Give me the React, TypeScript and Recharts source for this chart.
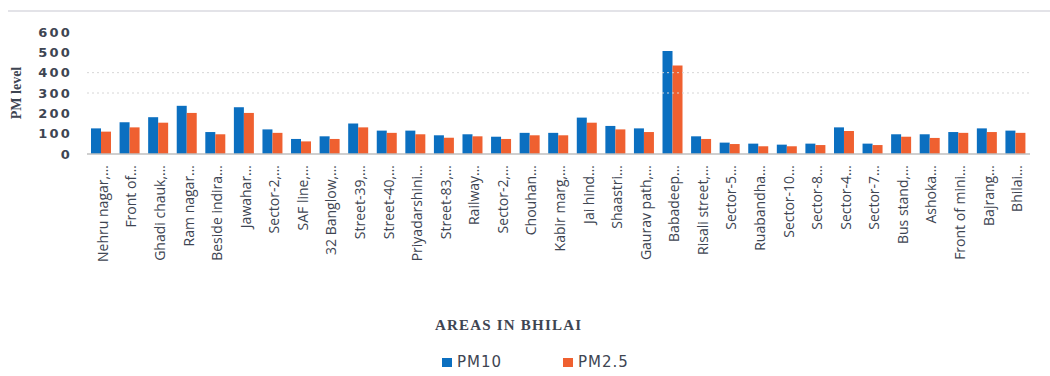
import React from "react";
import { BarChart, Bar, XAxis, YAxis, ReferenceLine } from "recharts";

const areas = [
  "Nehru nagar,…", "Front of…", "Ghadi chauk,…", "Ram nagar…", "Beside indira…",
  "Jawahar…", "Sector-2,…", "SAF line,…", "32 Banglow,…", "Street-39,…",
  "Street-40,…", "Priyadarshini…", "Street-83,…", "Railway…", "Sector-2,…",
  "Chouhan…", "Kabir marg,…", "Jai hind…", "Shaastri…", "Gaurav path,…",
  "Babadeep…", "Risali street,…", "Sector-5…", "Ruabandha…", "Sector-10…",
  "Sector-8…", "Sector-4…", "Sector-7…", "Bus stand,…", "Ashoka…",
  "Front of mini…", "Bajrang…", "Bhilai…",
];

const pm10 = [
  126, 156, 181, 237, 108, 230, 121, 74, 87, 150,
  115, 115, 92, 97, 85, 104, 104, 179, 138, 126,
  506, 87, 56, 51, 46, 51, 131, 51, 97, 97,
  108, 126, 115,
];

const pm25 = [
  110, 131, 154, 202, 97, 202, 104, 62, 74, 131,
  104, 97, 80, 87, 74, 92, 92, 154, 121, 108,
  435, 74, 49, 38, 38, 44, 113, 44, 85, 79,
  104, 108, 104,
];

const yTicks = [0, 100, 200, 300, 400, 500, 600];
const gridValues = [300, 400];

const BLUE = "#0B6FC0";
const ORANGE = "#EF6030";
const TEXT = "#3E4552";
const SANS = "'Open Sans', 'Noto Sans', sans-serif";
const WIDE = "'DejaVu Sans', sans-serif";
const SERIF = "'Liberation Serif', 'DejaVu Serif', serif";

const data = areas.map((name, i) => ({ name, pm10: pm10[i], pm25: pm25[i] }));

function AreaTick({ x, y, payload }: any) {
  return (
    <text
      transform={`translate(${x + 1},${y + 3}) rotate(-90)`}
      textAnchor="end"
      dominantBaseline="central"
      fill={TEXT}
      fontSize={14}
      fontFamily={SANS}
    >
      {payload.value}
    </text>
  );
}

function LevelTick({ x, y, payload }: any) {
  return (
    <text
      x={x}
      y={y}
      textAnchor="end"
      dominantBaseline="central"
      fill={TEXT}
      fontSize={13}
      fontWeight={700}
      fontFamily={WIDE}
      letterSpacing={2.2}
    >
      {payload.value}
    </text>
  );
}

export default function App() {
  return (
    <div style={{ position: "fixed", left: 0, top: 0, width: 1050, height: 376, background: "#fff" }}>
      <div style={{ position: "absolute", left: 8, right: 0, top: 10, height: 2, background: "#E3E3E8" }} />
      <BarChart
        width={1050}
        height={376}
        data={data}
        margin={{ top: 32, right: 20, left: 0, bottom: 0 }}
        barGap={0}
        barSize={10}
      >
        {gridValues.map((v) => (
          <ReferenceLine key={v} y={v} stroke="#D6D6D6" strokeDasharray="2 3" />
        ))}
        <XAxis
          dataKey="name"
          interval={0}
          height={222}
          tick={<AreaTick />}
          tickLine={false}
          axisLine={{ stroke: "#BFBFBF", strokeWidth: 1.5 }}
        />
        <YAxis
          domain={[0, 600]}
          ticks={yTicks}
          interval={0}
          width={87}
          axisLine={false}
          tickLine={false}
          tickSize={0}
          tickMargin={15}
          tick={<LevelTick />}
          label={{
            value: "PM level",
            angle: -90,
            position: "insideLeft",
            offset: 16,
            style: { fill: TEXT, fontSize: 14, fontWeight: 700, fontFamily: SERIF, textAnchor: "middle" },
          }}
        />
        <Bar dataKey="pm10" name="PM10" fill={BLUE} isAnimationActive={false} />
        <Bar dataKey="pm25" name="PM2.5" fill={ORANGE} isAnimationActive={false} />
      </BarChart>
      <div
        style={{
          position: "absolute", left: 435, top: 317, fontFamily: SERIF, fontSize: 15,
          fontWeight: 700, color: TEXT, letterSpacing: 1.2, whiteSpace: "nowrap",
        }}
      >
        AREAS IN BHILAI
      </div>
      <div
        style={{
          position: "absolute", left: 442, top: 353, display: "flex", alignItems: "center",
          fontFamily: WIDE, fontSize: 15, color: TEXT, letterSpacing: 1, whiteSpace: "nowrap",
        }}
      >
        <span style={{ width: 10, height: 9, background: BLUE, marginRight: 5 }} />
        <span style={{ width: 106 }}>PM10</span>
        <span style={{ width: 10, height: 9, background: ORANGE, marginRight: 5 }} />
        <span>PM2.5</span>
      </div>
    </div>
  );
}
